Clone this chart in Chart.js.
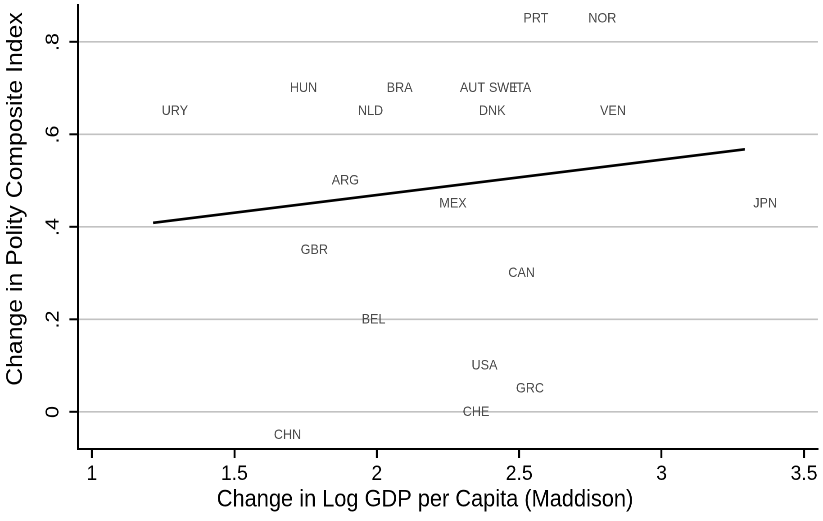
<!DOCTYPE html>
<html>
<head>
<meta charset="utf-8">
<title>Change in Polity vs Change in Log GDP per Capita</title>
<script src="https://cdn.jsdelivr.net/npm/chart.js@4.4.1/dist/chart.umd.min.js"></script>
<style>
  html, body { margin: 0; padding: 0; background: #ffffff; overflow: hidden; }
  #wrap {
    width: 914px; height: 521px;
    transform: scaleX(0.90044);
    transform-origin: 0 0;
  }
</style>
</head>
<body>
<div id="wrap"><canvas id="chart" width="914" height="521"></canvas></div>
<script>
// Country codes and their changes (log GDP per capita, Polity composite index)
const countries = ['PRT','NOR','HUN','BRA','AUT','SWE','ITA','URY','NLD','DNK','VEN',
                   'ARG','MEX','JPN','GBR','CAN','BEL','USA','GRC','CHE','CHN'];
const gdpChange = [2.485, 2.713, 1.665, 2.005, 2.262, 2.364, 2.447, 1.215, 1.904, 2.329, 2.754,
                   1.812, 2.190, 3.292, 1.703, 2.432, 1.917, 2.303, 2.459, 2.272, 1.609];
const polityChange = [0.85, 0.85, 0.70, 0.70, 0.70, 0.70, 0.70, 0.65, 0.65, 0.65, 0.65,
                      0.50, 0.45, 0.45, 0.35, 0.30, 0.20, 0.10, 0.05, 0.00, -0.05];

// Linear fit endpoints
const fitX = [1.215, 3.292];
const fitY = [0.409, 0.568];

// Axis ticks
const xTicks = [1, 1.5, 2, 2.5, 3, 3.5];
const yTicks = [0, 0.2, 0.4, 0.6, 0.8];

const FONT = '"Liberation Sans", Arial, Helvetica, sans-serif';

const points = countries.map((c, i) => ({ x: gdpChange[i], y: polityChange[i], label: c }));
const fitLine = fitX.map((x, i) => ({ x: x, y: fitY[i] }));

// Country codes written just right of each (invisible) marker
const markerLabels = {
  id: 'markerLabels',
  afterDatasetsDraw(chart) {
    const meta = chart.getDatasetMeta(0);
    const ctx = chart.ctx;
    ctx.save();
    ctx.font = '14px ' + FONT;
    ctx.fillStyle = '#4a4a4a';
    ctx.textAlign = 'left';
    ctx.textBaseline = 'middle';
    meta.data.forEach((el, i) => {
      ctx.fillText(countries[i], el.x + 9.4, el.y);
    });
    ctx.restore();
  }
};

// Axis titles
const axisTitles = {
  id: 'axisTitles',
  afterDraw(chart) {
    const ctx = chart.ctx;
    ctx.save();
    ctx.font = '24.2px ' + FONT;
    ctx.fillStyle = '#000000';
    ctx.textAlign = 'center';
    ctx.textBaseline = 'middle';
    ctx.fillText('Change in Log GDP per Capita (Maddison)', 472, 500);
    ctx.font = '24.8px ' + FONT;
    ctx.translate(17.5, 199);
    ctx.rotate(-Math.PI / 2);
    ctx.fillText('Change in Polity Composite Index', 0, 0);
    ctx.restore();
  }
};

function fmtY(v) {
  if (Math.abs(v) < 1e-9) return '0';
  return v.toFixed(1).replace(/^0\./, '.').replace(/^-0\./, '-.');
}

new Chart(document.getElementById('chart'), {
  type: 'scatter',
  data: {
    datasets: [
      {
        label: 'countries',
        data: points,
        pointRadius: 0,
        pointHoverRadius: 0,
        showLine: false
      },
      {
        label: 'fit',
        data: fitLine,
        showLine: true,
        borderColor: '#000000',
        borderWidth: 2.6,
        pointRadius: 0,
        fill: false
      }
    ]
  },
  options: {
    responsive: false,
    animation: false,
    devicePixelRatio: 2,
    layout: { padding: { left: 0, right: 5.6, top: 5, bottom: 0 } },
    plugins: {
      legend: { display: false },
      tooltip: { enabled: false },
      title: { display: false }
    },
    scales: {
      x: {
        type: 'linear',
        min: 0.951,
        max: 3.549,
        afterBuildTicks: (scale) => { scale.ticks = xTicks.map(v => ({ value: v })); },
        afterFit: (scale) => {
          scale.height = 72;
          scale.paddingLeft = 0;
          scale.paddingRight = 0;
        },
        grid: {
          drawOnChartArea: false,
          drawTicks: true,
          tickLength: 9,
          tickColor: '#000000',
          tickWidth: 2.2
        },
        border: { display: true, color: '#000000', width: 2 },
        ticks: {
          color: '#000000',
          font: { family: FONT, size: 21.5 },
          padding: 3,
          maxRotation: 0,
          minRotation: 0,
          callback: (v) => String(v)
        },
        title: { display: false }
      },
      y: {
        type: 'linear',
        min: -0.08,
        max: 0.88,
        afterBuildTicks: (scale) => { scale.ticks = yTicks.map(v => ({ value: v })); },
        afterFit: (scale) => {
          scale.width = 86.6;
          scale.paddingTop = 0;
          scale.paddingBottom = 0;
        },
        grid: {
          color: '#c2c2c2',
          lineWidth: 1.6,
          drawTicks: true,
          tickLength: 9.5,
          tickColor: '#000000',
          tickWidth: 2
        },
        border: { display: true, color: '#000000', width: 2.2 },
        ticks: {
          color: '#000000',
          font: { family: FONT, size: 21.5 },
          minRotation: 90,
          maxRotation: 90,
          crossAlign: 'center',
          padding: 9,
          callback: (v) => fmtY(v)
        },
        title: { display: false }
      }
    }
  },
  plugins: [markerLabels, axisTitles]
});
</script>
</body>
</html>
